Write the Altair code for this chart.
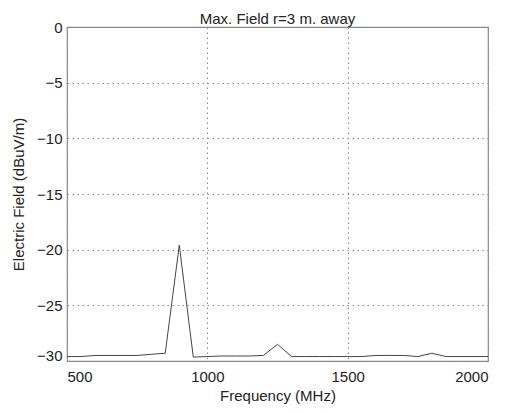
import altair as alt
import pandas as pd

freq = [500, 550, 600, 650, 700, 750, 800, 850, 900, 950, 1000, 1050, 1100, 1150,
        1200, 1250, 1300, 1350, 1400, 1450, 1500, 1550, 1600, 1650, 1700, 1750,
        1800, 1850, 1900, 1950, 2000]
field = [-29.6, -29.6, -29.5, -29.5, -29.5, -29.5, -29.4, -29.3, -19.6, -29.65, -29.6,
         -29.55, -29.55, -29.55, -29.5, -28.5, -29.6, -29.6, -29.6, -29.6, -29.6,
         -29.6, -29.5, -29.5, -29.5, -29.6, -29.3, -29.6, -29.6, -29.6, -29.6]
x_ticks = [500, 1000, 1500, 2000]
y_ticks = [0, -5, -10, -15, -20, -25, -30]

df = pd.DataFrame({"freq": freq, "field": field})

FONT = "Liberation Sans"

chart = alt.Chart(df).mark_line(color="#444444", strokeWidth=1).encode(
    x=alt.X("freq:Q", title="Frequency (MHz)",
            scale=alt.Scale(domain=[500, 2000], nice=False, zero=False),
            axis=alt.Axis(values=x_ticks, format="d", titlePadding=4, labelPadding=8)),
    y=alt.Y("field:Q", title="Electric Field (dBuV/m)",
            scale=alt.Scale(domain=[-30, 0], nice=False, zero=False),
            axis=alt.Axis(values=y_ticks, titlePadding=10, labelPadding=5,
                          labelOffset={"condition": {"test": "datum.value == -30", "value": -6},
                                       "value": 0})),
).properties(
    width=421, height=334,
    title=alt.TitleParams("Max. Field r=3 m. away", fontSize=15, fontWeight="normal",
                          font=FONT, color="#222222", offset=-7),
    autosize=alt.AutoSizeParams(type="none"),
    padding={"left": 59, "top": 19, "right": 15, "bottom": 44},
).configure(
    background="white"
).configure_view(
    stroke="#888888", strokeWidth=1.2
).configure_axis(
    domain=False, ticks=False,
    grid=True, gridDash=[1.5, 3.5], gridColor="#888888", gridOpacity=1, gridWidth=1,
    labelFont=FONT, labelFontSize=15, labelColor="#222222",
    titleFont=FONT, titleFontSize=15, titleFontWeight="normal",
    titleColor="#222222",
)

chart.save("out.html", embed_options={"renderer": "svg", "actions": False})
